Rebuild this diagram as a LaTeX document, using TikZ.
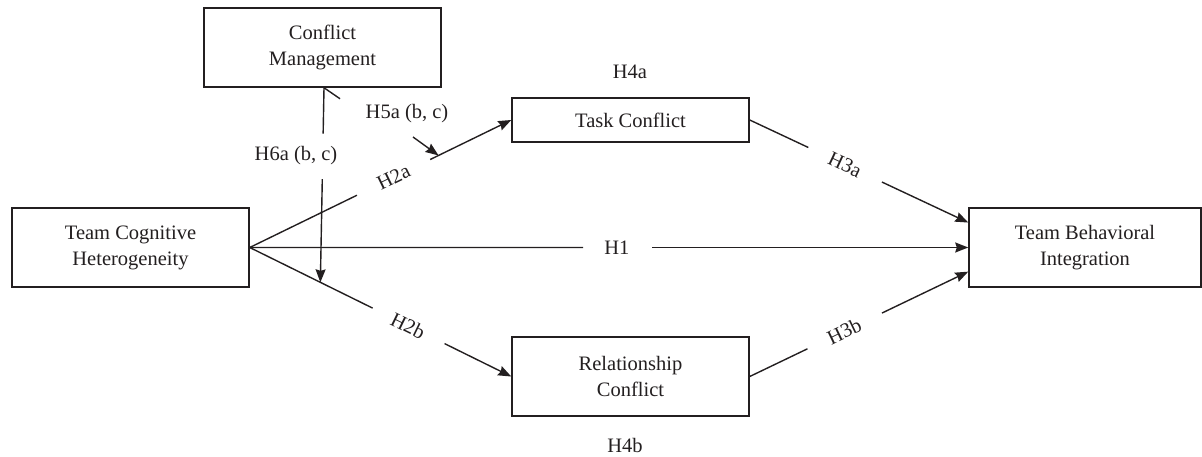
\documentclass[tikz,border=0pt]{standalone}
\usepackage{fontspec}
\setmainfont{Liberation Serif}
\usetikzlibrary{arrows.meta,calc}
\definecolor{ink}{HTML}{231F20}
\tikzset{
  box/.style={draw=ink, line width=1.5pt, fill=white, text=ink, align=center, minimum width=237pt, minimum height=79pt, inner sep=0pt, font=\fontsize{20.5}{26}\selectfont},
  conn/.style={draw=ink, line width=1.4pt},
  arr/.style={conn, -{Stealth[length=13pt,width=10pt,inset=1.5pt]}},
  lab/.style={text=ink, inner sep=0pt, font=\fontsize{20.5}{26}\selectfont}
}
\begin{document}
\begin{tikzpicture}[x=1pt,y=-1pt]
\useasboundingbox (0,0) rectangle (1202,457);
\node[box] (cm) at (322.5,47.5) {Conflict\\Management};
\node[box] (tch) at (130.5,247.5) {Team Cognitive\\Heterogeneity};
\node[box, minimum height=44pt] (tc) at (630.5,120) {Task Conflict};
\node[box] (rc) at (630.5,376.5) {Relationship\\Conflict};
\node[box, minimum width=232pt] (tbi) at (1085,247.5) {Team Behavioral\\Integration};

% H2a
\draw[conn] (tch.east) -- ($(tch.east)!0.41!(tc.west)$);
\draw[arr] ($(tch.east)!0.69!(tc.west)$) -- (tc.west);
\node[lab, rotate=25.8] (h2a) at ($(tch.east)!0.55!(tc.west)$) {H2a};
% H2b
\draw[conn] (tch.east) -- ($(tch.east)!0.47!(rc.west)$);
\draw[arr] ($(tch.east)!0.745!(rc.west)$) -- (rc.west);
\node[lab, rotate=-26.1] (h2b) at ($(tch.east)!0.605!(rc.west)$) {H2b};
% H1
\draw[conn] (tch.east) -- ($(tch.east)!0.464!(tbi.west)$);
\draw[arr] ($(tch.east)!0.56!(tbi.west)$) -- (tbi.west);
\node[lab] (h1) at ($(tch.east)!0.511!(tbi.west)$) {H1};
% H3a
\coordinate (tbiA) at ($(tbi.north west)!0.19!(tbi.south west)$);
\draw[conn] (tc.east) -- ($(tc.east)!0.268!(tbiA)$);
\draw[arr] ($(tc.east)!0.605!(tbiA)$) -- (tbiA);
\node[lab, rotate=-25.1] (h3a) at ($(tc.east)!0.436!(tbiA)$) {H3a};
% H3b
\coordinate (tbiB) at ($(tbi.north west)!0.80!(tbi.south west)$);
\draw[conn] (rc.east) -- ($(rc.east)!0.264!(tbiB)$);
\draw[arr] ($(rc.east)!0.605!(tbiB)$) -- (tbiB);
\node[lab, rotate=25.6] (h3b) at ($(rc.east)!0.432!(tbiB)$) {H3b};
% H6a
\coordinate (cmS) at ($(cm.south)+(1.5,0)$);
\coordinate (m6) at ($(tch.east)!0.27!(rc.west)$);
\draw[conn] (cmS) -- ($(cmS)!0.236!(m6)$);
\draw[arr] ($(cmS)!0.47!(m6)$) -- (m6);
\node[lab] (h6a) at (296,156) {H6a (b, c)};
\draw[conn] (cmS) -- +(16,11);
% H5a
\coordinate (h5s) at (413,137);
\draw[arr] (h5s) -- ($(tch.east)!0.722!(tc.west)$);
\node[lab] (h5a) at (407,114) {H5a (b, c)};
% H4
\node[lab] (h4a) at (630,72) {H4a};
\node[lab] (h4b) at (625,445) {H4b};
\end{tikzpicture}
\end{document}
